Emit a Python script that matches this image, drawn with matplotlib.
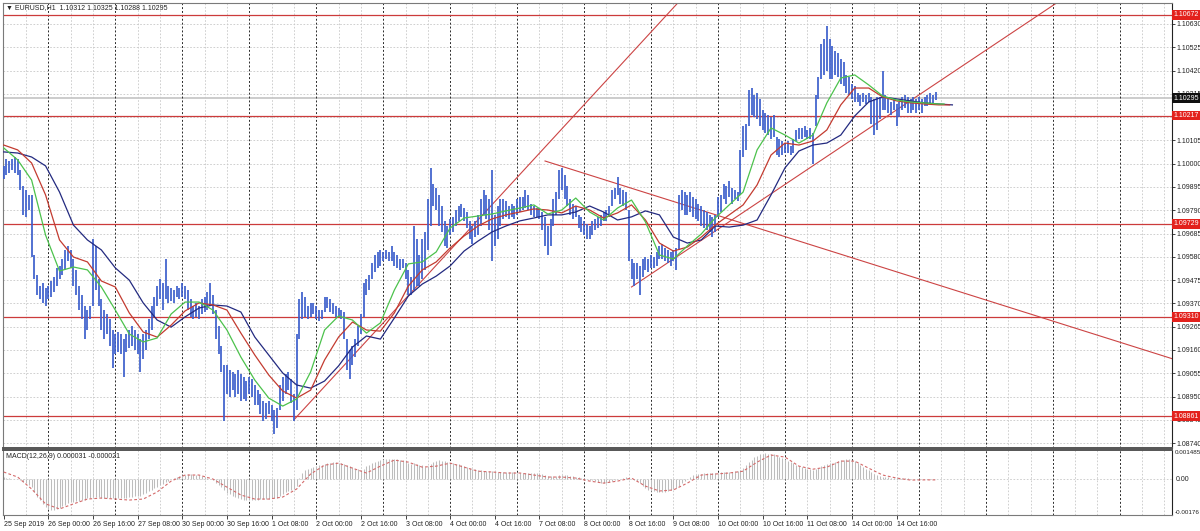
import matplotlib
matplotlib.use("Agg")
import matplotlib.pyplot as plt
import matplotlib.transforms as mtransforms
import numpy as np

plt.rcParams['font.family'] = ['Liberation Sans', 'DejaVu Sans']

# EURUSD H1 bars, index 0 = 25 Sep 2019 08:00
highs = [
    1.0999, 1.1002, 1.1001, 1.1002, 1.1003, 1.1002, 1.0997, 1.0990, 1.0988, 1.0986,
    1.0986, 1.0959, 1.0950, 1.0945, 1.0946, 1.0944, 1.0945, 1.0947, 1.0949, 1.0953,
    1.0954, 1.0957, 1.0961, 1.0963, 1.0961, 1.0957, 1.0952, 1.0945, 1.0941, 1.0936,
    1.0934, 1.0936, 1.0966, 1.0963, 1.0948, 1.0939, 1.0934, 1.0932, 1.0930, 1.0925,
    1.0923, 1.0924, 1.0923, 1.0921, 1.0923, 1.0925, 1.0927, 1.0925, 1.0923, 1.0921,
    1.0923, 1.0925, 1.0930, 1.0936, 1.0940, 1.0945, 1.0948, 1.0946, 1.0957, 1.0945,
    1.0944, 1.0943, 1.0945, 1.0944, 1.0946, 1.0945, 1.0943, 1.0939, 1.0936, 1.0937,
    1.0936, 1.0939, 1.0940, 1.0942, 1.0946, 1.0941, 1.0934, 1.0927, 1.0918, 1.0909,
    1.0909, 1.0907, 1.0906, 1.0905, 1.0907, 1.0905, 1.0904, 1.0902, 1.0904, 1.0903,
    1.0900, 1.0898, 1.0896, 1.0893, 1.0892, 1.0893, 1.0891, 1.0889, 1.0890, 1.0900,
    1.0904, 1.0905, 1.0906, 1.0903, 1.0896, 1.0923, 1.0939, 1.0942, 1.0940, 1.0936,
    1.0937, 1.0937, 1.0936, 1.0934, 1.0934, 1.0940, 1.0940, 1.0939, 1.0937, 1.0936,
    1.0935, 1.0934, 1.0933, 1.0921, 1.0916, 1.0918, 1.0921, 1.0927, 1.0932, 1.0946,
    1.0948, 1.0950, 1.0955, 1.0959, 1.0960, 1.0961, 1.0960, 1.0961, 1.0960, 1.0963,
    1.0960, 1.0959, 1.0957, 1.0957, 1.0955, 1.0952, 1.0949, 1.0972, 1.0966, 1.0959,
    1.0966, 1.0969, 1.0984, 1.0998, 1.0991, 1.0989, 1.0986, 1.0981, 1.0974, 1.0972,
    1.0975, 1.0976, 1.0979, 1.0981, 1.0982, 1.0980, 1.0978, 1.0974, 1.0972, 1.0974,
    1.0977, 1.0984, 1.0988, 1.0986, 1.0984, 1.0997, 1.0977, 1.0981, 1.0984, 1.0984,
    1.0983, 1.0981, 1.0982, 1.0981, 1.0984, 1.0985, 1.0985, 1.0988, 1.0986, 1.0982,
    1.0981, 1.0980, 1.0980, 1.0978, 1.0976, 1.0972, 1.0975, 1.0984, 1.0987, 1.0997,
    1.0998, 1.0995, 1.0990, 1.0984, 1.0982, 1.0981, 1.0977, 1.0976, 1.0974, 1.0973,
    1.0972, 1.0974, 1.0975, 1.0976, 1.0977, 1.0978, 1.0979, 1.0981, 1.0988, 1.0989,
    1.0994, 1.0989, 1.0988, 1.0987, 1.0979, 1.0957, 1.0955, 1.0955, 1.0954, 1.0957,
    1.0958, 1.0957, 1.0959, 1.0958, 1.0960, 1.0963, 1.0964, 1.0962, 1.0961, 1.0960,
    1.0961, 1.0962, 1.0986, 1.0988, 1.0987, 1.0986, 1.0987, 1.0985, 1.0984, 1.0982,
    1.0981, 1.0979, 1.0978, 1.0977, 1.0976, 1.0977, 1.0985, 1.0986, 1.0991, 1.0990,
    1.0992, 1.0989, 1.0988, 1.0987, 1.1006, 1.1017, 1.1018, 1.1033, 1.1034, 1.1031,
    1.1032, 1.1029, 1.1024, 1.1023, 1.1022, 1.1021, 1.1022, 1.1012, 1.1011, 1.1010,
    1.1009, 1.1010, 1.1008, 1.1011, 1.1015, 1.1016, 1.1016, 1.1017, 1.1015, 1.1016,
    1.1014, 1.1031, 1.1039, 1.1054, 1.1056, 1.1062, 1.1056, 1.1053, 1.1051, 1.1050,
    1.1047, 1.1046, 1.1040, 1.1039, 1.1036, 1.1035, 1.1032, 1.1031, 1.1032, 1.1031,
    1.1032, 1.1030, 1.1029, 1.1030, 1.1030, 1.1042, 1.1031, 1.1029, 1.1028, 1.1029,
    1.1027, 1.1028, 1.1030, 1.1031, 1.1030, 1.1029, 1.1030, 1.1029, 1.1030, 1.1029,
    1.1030, 1.1031, 1.1032, 1.1031, 1.10325,
]
lows = [
    1.0993, 1.0995, 1.0996, 1.0997, 1.0996, 1.0995, 1.0988, 1.0977, 1.0976, 1.0979,
    1.0958, 1.0948, 1.0941, 1.0939, 1.0937, 1.0936, 1.0939, 1.0940, 1.0942, 1.0945,
    1.0948, 1.0950, 1.0952, 1.0956, 1.0953, 1.0945, 1.0941, 1.0934, 1.0930, 1.0921,
    1.0925, 1.0930, 1.0936, 1.0943, 1.0936, 1.0925, 1.0921, 1.0923, 1.0918, 1.0908,
    1.0914, 1.0915, 1.0914, 1.0904, 1.0915, 1.0917, 1.0918, 1.0916, 1.0914, 1.0906,
    1.0912, 1.0916, 1.0921, 1.0925, 1.0931, 1.0936, 1.0939, 1.0934, 1.0939, 1.0937,
    1.0938, 1.0937, 1.0940, 1.0939, 1.0940, 1.0939, 1.0934, 1.0931, 1.0930, 1.0931,
    1.0930, 1.0932, 1.0933, 1.0934, 1.0936, 1.0932, 1.0921, 1.0914, 1.0906, 1.0884,
    1.0896, 1.0895, 1.0898, 1.0895, 1.0896, 1.0893, 1.0894, 1.0893, 1.0896, 1.0895,
    1.0891, 1.0891, 1.0887, 1.0884, 1.0885, 1.0887, 1.0884, 1.0878, 1.0881, 1.0889,
    1.0893, 1.0896, 1.0898, 1.0892, 1.0884, 1.0889, 1.0921, 1.0930, 1.0931, 1.0930,
    1.0931, 1.0932, 1.0930, 1.0929, 1.0930, 1.0933, 1.0935, 1.0933, 1.0932, 1.0931,
    1.0931, 1.0930, 1.0921, 1.0907, 1.0903, 1.0909, 1.0913, 1.0918, 1.0923, 1.0931,
    1.0941, 1.0943, 1.0948, 1.0951, 1.0953, 1.0954, 1.0956, 1.0957, 1.0956, 1.0956,
    1.0954, 1.0953, 1.0952, 1.0953, 1.0948, 1.0941, 1.0941, 1.0943, 1.0945, 1.0945,
    1.0948, 1.0952, 1.0961, 1.0972, 1.0981, 1.0979, 1.0972, 1.0969, 1.0963, 1.0962,
    1.0968, 1.0969, 1.0972, 1.0974, 1.0976, 1.0974, 1.0971, 1.0966, 1.0964, 1.0967,
    1.0968, 1.0972, 1.0977, 1.0975, 1.0970, 1.0956, 1.0963, 1.0966, 1.0972, 1.0975,
    1.0976, 1.0975, 1.0976, 1.0975, 1.0977, 1.0978, 1.0979, 1.0980, 1.0979, 1.0977,
    1.0976, 1.0976, 1.0975, 1.0970, 1.0963, 1.0959, 1.0963, 1.0972, 1.0977, 1.0984,
    1.0988, 1.0984, 1.0981, 1.0977, 1.0975, 1.0976, 1.0971, 1.0969, 1.0968, 1.0966,
    1.0966, 1.0968, 1.0970, 1.0971, 1.0972, 1.0974, 1.0974, 1.0976, 1.0981, 1.0984,
    1.0986, 1.0982, 1.0981, 1.0979, 1.0956, 1.0948, 1.0945, 1.0948, 1.0941, 1.0949,
    1.0952, 1.0951, 1.0953, 1.0953, 1.0954, 1.0957, 1.0957, 1.0956, 1.0955, 1.0954,
    1.0956, 1.0952, 1.0961, 1.0979, 1.0977, 1.0977, 1.0978, 1.0976, 1.0975, 1.0974,
    1.0972, 1.0971, 1.0970, 1.0969, 1.0967, 1.0969, 1.0976, 1.0978, 1.0984, 1.0982,
    1.0985, 1.0982, 1.0984, 1.0983, 1.0986, 1.1003, 1.1006, 1.1017, 1.1022, 1.1021,
    1.1020, 1.1017, 1.1015, 1.1014, 1.1013, 1.1011, 1.1012, 1.1004, 1.1003, 1.1004,
    1.1005, 1.1005, 1.1004, 1.1005, 1.1010, 1.1011, 1.1011, 1.1012, 1.1011, 1.1011,
    1.1000, 1.1017, 1.1029, 1.1038, 1.1040, 1.1042, 1.1038, 1.1038, 1.1040, 1.1039,
    1.1036, 1.1035, 1.1032, 1.1031, 1.1029, 1.1028, 1.1028, 1.1026, 1.1028, 1.1027,
    1.1028, 1.1018, 1.1013, 1.1015, 1.1020, 1.1024, 1.1024, 1.1023, 1.1022, 1.1024,
    1.1017, 1.1021, 1.1024, 1.1025, 1.1023, 1.1023, 1.1024, 1.1023, 1.1024, 1.1023,
    1.1026, 1.1026, 1.1027, 1.1027, 1.10288,
]

# Alligator lines (already shifted forward), read every 5 bars
jaw_idx = list(range(0, 341, 5))
jaw = [
    1.10053, 1.10048, 1.10030, 1.09990, 1.09872, 1.09723, 1.09656, 1.09611, 1.09530, 1.09475,
    1.09372, 1.09295, 1.09263, 1.09309, 1.09349, 1.09363, 1.09358, 1.09331, 1.09218, 1.09137,
    1.09056, 1.09002, 1.08988, 1.09020, 1.09088, 1.09173, 1.09223, 1.09209, 1.09304, 1.09403,
    1.09457, 1.09493, 1.09539, 1.09606, 1.09651, 1.09692, 1.09719, 1.09742, 1.09755, 1.09769,
    1.09769, 1.09782, 1.09809, 1.09782, 1.09746, 1.09760, 1.09787, 1.09769, 1.09669, 1.09642,
    1.09656, 1.09719, 1.09714, 1.09723, 1.09746, 1.09859, 1.09981, 1.10057, 1.10084, 1.10093,
    1.10129, 1.10215, 1.10278, 1.10301, 1.10292, 1.10283, 1.10274, 1.10269, 1.10265,
]
teeth_idx = list(range(0, 336, 5)) + [339]
teeth = [
    1.10084, 1.10062, 1.10003, 1.09859, 1.09656, 1.09579, 1.09557, 1.09471, 1.09444, 1.09327,
    1.09241, 1.09218, 1.09272, 1.09336, 1.09372, 1.09363, 1.09340, 1.09236, 1.09137, 1.09047,
    1.08975, 1.08943, 1.08979, 1.09115, 1.09218, 1.09286, 1.09250, 1.09245, 1.09327, 1.09448,
    1.09521, 1.09557, 1.09620, 1.09674, 1.09719, 1.09751, 1.09769, 1.09782, 1.09796, 1.09791,
    1.09778, 1.09809, 1.09791, 1.09755, 1.09778, 1.09814, 1.09746, 1.09642, 1.09606, 1.09624,
    1.09669, 1.09723, 1.09769, 1.09814, 1.09904, 1.10039, 1.10093, 1.10084, 1.10102, 1.10152,
    1.10265, 1.10341, 1.10341, 1.10301, 1.10283, 1.10274, 1.10269, 1.10265, 1.10265,
]
lips_idx = list(range(0, 336, 5)) + [337]
lips = [
    1.10071, 1.10017, 1.09926, 1.09678, 1.09516, 1.09534, 1.09521, 1.09444, 1.09340, 1.09232,
    1.09196, 1.09214, 1.09322, 1.09376, 1.09376, 1.09340, 1.09250, 1.09128, 1.09024, 1.08943,
    1.08907, 1.08939, 1.09061, 1.09250, 1.09313, 1.09295, 1.09236, 1.09282, 1.09430, 1.09548,
    1.09557, 1.09602, 1.09710, 1.09755, 1.09764, 1.09773, 1.09787, 1.09800, 1.09814, 1.09773,
    1.09791, 1.09845, 1.09782, 1.09746, 1.09800, 1.09836, 1.09737, 1.09588, 1.09570, 1.09629,
    1.09683, 1.09755, 1.09814, 1.09872, 1.10062, 1.10161, 1.10129, 1.10093, 1.10129, 1.10274,
    1.10386, 1.10400, 1.10355, 1.10305, 1.10287, 1.10278, 1.10274, 1.10269, 1.10269,
]

# MACD(12,26,9) main per bar, signal read every 5 bars
macd_main = [
    0.00010, 0.00008, 0.00006, 0.00004, 0.00002, 0.00000, -0.00005, -0.00012, -0.00018, -0.00025,
    -0.00035, -0.00060, -0.00085, -0.00102, -0.00120, -0.00135, -0.00145, -0.00150, -0.00150, -0.00146,
    -0.00140, -0.00132, -0.00125, -0.00118, -0.00113, -0.00110, -0.00108, -0.00105, -0.00103, -0.00100,
    -0.00094, -0.00093, -0.00088, -0.00086, -0.00088, -0.00090, -0.00091, -0.00092, -0.00093, -0.00094,
    -0.00094, -0.00093, -0.00092, -0.00093, -0.00090, -0.00088, -0.00086, -0.00084, -0.00082, -0.00080,
    -0.00072, -0.00065, -0.00058, -0.00050, -0.00042, -0.00035, -0.00028, -0.00022, -0.00014, -0.00008,
    0.00000, 0.00008, 0.00014, 0.00018, 0.00021, 0.00024, 0.00025, 0.00025, 0.00024, 0.00022,
    0.00020, 0.00016, 0.00012, 0.00008, 0.00004, -0.00005, -0.00015, -0.00025, -0.00038, -0.00052,
    -0.00065, -0.00073, -0.00080, -0.00086, -0.00092, -0.00098, -0.00101, -0.00103, -0.00103, -0.00102,
    -0.00101, -0.00100, -0.00099, -0.00098, -0.00097, -0.00095, -0.00092, -0.00092, -0.00090, -0.00082,
    -0.00072, -0.00064, -0.00055, -0.00050, -0.00045, -0.00030, 0.00005, 0.00030, 0.00045, 0.00052,
    0.00058, 0.00063, 0.00068, 0.00071, 0.00074, 0.00078, 0.00081, 0.00083, 0.00085, 0.00085,
    0.00083, 0.00080, 0.00076, 0.00072, 0.00066, 0.00060, 0.00054, 0.00050, 0.00047, 0.00052,
    0.00068, 0.00074, 0.00080, 0.00086, 0.00092, 0.00096, 0.00099, 0.00101, 0.00102, 0.00103,
    0.00103, 0.00101, 0.00098, 0.00095, 0.00090, 0.00084, 0.00078, 0.00080, 0.00078, 0.00074,
    0.00070, 0.00062, 0.00065, 0.00078, 0.00086, 0.00091, 0.00095, 0.00094, 0.00090, 0.00086,
    0.00083, 0.00080, 0.00077, 0.00075, 0.00072, 0.00068, 0.00064, 0.00058, 0.00054, 0.00050,
    0.00047, 0.00045, 0.00044, 0.00042, 0.00040, 0.00040, 0.00038, 0.00037, 0.00037, 0.00037,
    0.00036, 0.00036, 0.00035, 0.00035, 0.00034, 0.00034, 0.00033, 0.00033, 0.00033, 0.00032,
    0.00032, 0.00032, 0.00030, 0.00027, 0.00022, 0.00018, 0.00015, 0.00014, 0.00016, 0.00020,
    0.00022, 0.00022, 0.00021, 0.00019, 0.00016, 0.00013, 0.00011, 0.00008, 0.00005, 0.00002,
    -0.00001, -0.00005, -0.00009, -0.00013, -0.00016, -0.00017, -0.00016, -0.00013, -0.00008, -0.00004,
    0.00000, 0.00004, 0.00008, 0.00011, 0.00010, 0.00004, -0.00004, -0.00010, -0.00018, -0.00030,
    -0.00042, -0.00050, -0.00055, -0.00058, -0.00060, -0.00062, -0.00062, -0.00060, -0.00057, -0.00053,
    -0.00048, -0.00042, -0.00030, -0.00018, -0.00008, 0.00004, 0.00014, 0.00020, 0.00024, 0.00027,
    0.00029, 0.00030, 0.00031, 0.00031, 0.00031, 0.00032, 0.00033, 0.00035, 0.00037, 0.00038,
    0.00039, 0.00039, 0.00040, 0.00041, 0.00048, 0.00058, 0.00070, 0.00085, 0.00098, 0.00110,
    0.00118, 0.00124, 0.00128, 0.00129, 0.00128, 0.00126, 0.00124, 0.00118, 0.00112, 0.00106,
    0.00100, 0.00094, 0.00088, 0.00080, 0.00072, 0.00066, 0.00060, 0.00056, 0.00052, 0.00050,
    0.00047, 0.00052, 0.00058, 0.00066, 0.00072, 0.00076, 0.00080, 0.00084, 0.00088, 0.00092,
    0.00095, 0.00098, 0.00100, 0.00101, 0.00098, 0.00090, 0.00081, 0.00072, 0.00062, 0.00054,
    0.00046, 0.00036, 0.00026, 0.00020, 0.00016, 0.00014, 0.00012, 0.00010, 0.00009, 0.00008,
    0.00007, 0.00006, 0.00006, 0.00005, 0.00005, 0.00004, 0.00004, 0.00004, 0.00003, 0.00003,
    0.00003, 0.00003, 0.00003, 0.00003, 0.000031,
]
signal_idx = list(range(0, 331, 5)) + [334]
macd_signal = [
    0.00037, 0.00012, -0.00047, -0.00121, -0.00146, -0.00121, -0.00097, -0.00092, -0.00097, -0.00102,
    -0.00097, -0.00062, -0.00008, 0.00022, 0.00022, 0.00002, -0.00038, -0.00077, -0.00097, -0.00097,
    -0.00087, -0.00047, 0.00027, 0.00071, 0.00081, 0.00056, 0.00032, 0.00066, 0.00096, 0.00086,
    0.00061, 0.00066, 0.00081, 0.00061, 0.00041, 0.00037, 0.00032, 0.00032, 0.00022, 0.00012,
    0.00012, 0.00007, -0.00008, -0.00018, -0.00008, 0.00007, -0.00033, -0.00057, -0.00052, -0.00018,
    0.00022, 0.00027, 0.00032, 0.00041, 0.00086, 0.00121, 0.00111, 0.00066, 0.00051, 0.00061,
    0.00091, 0.00091, 0.00056, 0.00022, 0.00007, -0.00003, -0.00002, -0.000021,
]

# horizontal levels and trend lines (bar index, price)
levels = [1.10672, 1.10217, 1.09729, 1.09310, 1.08861]
last_price = 1.10295
trend_lines = [
    ((104, 1.08845), (169, 1.09733)),
    ((225, 1.09444), (336, 1.10377)),
    ((194, 1.10012), (253, 1.09778)),
]

price_ticks = [1.08740, 1.08845, 1.08950, 1.09055, 1.09160, 1.09265, 1.09370, 1.09475,
               1.09580, 1.09685, 1.09790, 1.09895, 1.10000, 1.10105, 1.10210, 1.10315,
               1.10420, 1.10525, 1.10630]
price_labels = ['1.08740', '1.08845', '1.08950', '1.09055', '1.09160', '1.09265', '1.09370',
                '1.09475', '1.09580', '1.09685', '1.09790', '1.09895', '1.10000', '1.10105',
                '', '1.10315', '1.10420', '1.10525', '1.10630']
date_labels = ['25 Sep 2019', '26 Sep 00:00', '26 Sep 16:00', '27 Sep 08:00', '30 Sep 00:00',
               '30 Sep 16:00', '1 Oct 08:00', '2 Oct 00:00', '2 Oct 16:00', '3 Oct 08:00',
               '4 Oct 00:00', '4 Oct 16:00', '7 Oct 08:00', '8 Oct 00:00', '8 Oct 16:00',
               '9 Oct 08:00', '10 Oct 00:00', '10 Oct 16:00', '11 Oct 08:00', '14 Oct 00:00',
               '14 Oct 16:00']
date_idx = list(range(0, 321, 16))

W, H = 1200, 531
FS = 5
fig = plt.figure(figsize=(12, 5.31), dpi=100)
fig.patch.set_facecolor('white')

left, right = 2.7 / W, 1172 / W
ax = fig.add_axes([left, 1 - 448 / H, right - left, (448 - 3.3) / H])
ax2 = fig.add_axes([left, 1 - 515 / H, right - left, (515 - 449.5) / H])

xmin, xmax = -0.36, 418.7
bars = np.arange(len(highs))

grid_c = '#c8c8c8'
sep_c = '#2a2a2a'
for a in (ax, ax2):
    a.set_xlim(xmin, xmax)
    a.set_facecolor('white')
    for k in range(8, 420, 8):
        if (k - 16) % 24 == 0:
            a.axvline(k, color=sep_c, lw=0.7, ls=(0, (2, 2)), zorder=1)
        else:
            a.axvline(k, color=grid_c, lw=0.6, ls=(0, (2, 2)), zorder=0.5)
    for s in a.spines.values():
        s.set_color('#7a7a7a')
        s.set_linewidth(0.8)
    a.spines['right'].set_color('#222222')

# main price panel
ax.set_ylim(1.08718, 1.10723)
for p in price_ticks:
    ax.axhline(p, color=grid_c, lw=0.6, ls=(0, (2, 2)), zorder=0.5)
ax.axhline(last_price, color='#c8c8c8', lw=1.3, zorder=0.8)

ax.vlines(bars, lows, highs, color='#3d5fcc', lw=1.25, zorder=3)
ax.plot(jaw_idx, jaw, color='#232a80', lw=0.9, zorder=4)
ax.plot(teeth_idx, teeth, color='#c33b30', lw=0.9, zorder=4)
ax.plot(lips_idx, lips, color='#4cc24c', lw=0.9, zorder=4)

for p in levels:
    ax.axhline(p, color='#cc3b3b', lw=0.9, zorder=2)

for (x1, y1), (x2, y2) in trend_lines:
    slope = (y2 - y1) / (x2 - x1)
    ax.plot([x1, xmax], [y1, y1 + slope * (xmax - x1)], color='#cc4444', lw=0.8, zorder=2)

ax.set_xticks([])
ax.yaxis.tick_right()
ax.set_yticks(price_ticks)
ax.set_yticklabels(price_labels)
ax.tick_params(axis='y', labelsize=FS, length=2, width=0.6, pad=1.5, colors='#222222')
ax.spines['bottom'].set_color('#555555')
ax.spines['bottom'].set_linewidth(1.4)

ylab = mtransforms.blended_transform_factory(ax.transAxes, ax.transData)
for p in levels:
    ax.text(1.0012, p, '%.5f' % p, transform=ylab, fontsize=FS, color='white', va='center',
            ha='left', zorder=10, clip_on=False,
            bbox=dict(facecolor='#e3211c', edgecolor='none', pad=1.0))
ax.text(1.0012, last_price, '%.5f' % last_price, transform=ylab, fontsize=FS, color='white',
        va='center', ha='left', zorder=10, clip_on=False,
        bbox=dict(facecolor='#101010', edgecolor='none', pad=1.0))

fig.text(6 / W, 1 - 8 / H, '\u25bc EURUSD,H1  1.10312 1.10325 1.10288 1.10295',
         fontsize=FS, va='center', ha='left', color='#222222',
         family=['Liberation Sans', 'DejaVu Sans'])

# MACD panel
ax2.set_ylim(-0.00176, 0.001485)
ax2.axhline(0, color=grid_c, lw=0.6, ls=(0, (2, 2)), zorder=0.5)
ax2.vlines(bars, 0, macd_main, color='#bdbdbd', lw=0.75, zorder=2)
ax2.plot(signal_idx, macd_signal, color='#d46a6a', lw=0.8, ls=(0, (2.5, 2)), zorder=3)
ax2.spines['top'].set_color('#555555')
ax2.spines['top'].set_linewidth(1.4)
ax2.set_yticks([])
ylab2 = mtransforms.blended_transform_factory(ax2.transAxes, ax2.transData)
ax2.text(1.002, 0.001485, '0.001485', transform=ylab2, fontsize=4.5, va='top', ha='left',
         color='#222222', clip_on=False)
ax2.text(1.003, 0.0, '0.00', transform=ylab2, fontsize=FS, va='center', ha='left',
         color='#222222', clip_on=False)
ax2.text(1.002, -0.00176, '-0.00176', transform=ylab2, fontsize=4.5, va='bottom', ha='left',
         color='#222222', clip_on=False)
fig.text(6 / W, 1 - 456 / H, 'MACD(12,26,9) 0.000031 -0.000021', fontsize=FS,
         va='center', ha='left', color='#222222')

ax2.set_xticks(date_idx)
ax2.set_xticklabels(date_labels)
ax2.tick_params(axis='x', labelsize=FS, length=3, width=0.6, pad=1, colors='#222222')
for t in ax2.get_xticklabels():
    t.set_ha('left')

fig.savefig('out.png', dpi=100)
